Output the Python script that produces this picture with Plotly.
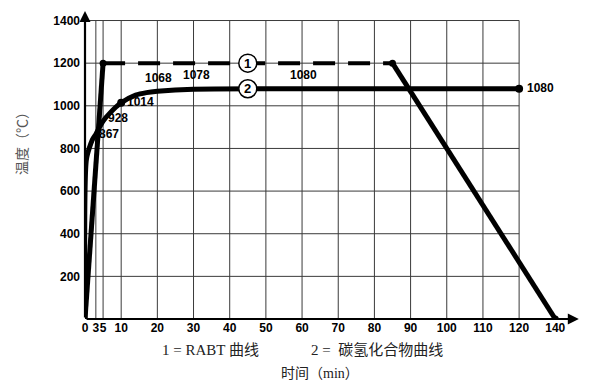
import plotly.graph_objects as go

# ---------------- data ----------------
x_tick_vals = [0, 3, 5, 10, 20, 30, 40, 50, 60, 70, 80, 90, 100, 110, 120, 140]
y_tick_vals = [200, 400, 600, 800, 1000, 1200, 1400]

# curve 1: RABT
rabt_time = [0, 5, 85, 140]
rabt_temp = [0, 1200, 1200, 0]

# curve 2: hydrocarbon curve
hc_time = [0, 0.4, 2, 3, 5, 7, 10, 14, 17, 20, 30, 60, 120]
hc_temp = [0, 750, 840, 867, 928, 968, 1014, 1050, 1062, 1068, 1078, 1080, 1080]

# labelled points on curve 2
lab_time = [3, 5, 10, 20, 30, 60, 120]
lab_temp = [867, 928, 1014, 1068, 1078, 1080, 1080]

circle_time = 45

# the schematic squeezes the 120-140 min segment to half width
def pos(t):
    return t if t <= 120 else 120 + (t - 120) / 2

FONT_B = "Liberation Sans, Arial, sans-serif"
FONT_S = "Liberation Serif, Noto Sans CJK SC, serif"

fig = go.Figure()

# grid (only up to 120 min and 1400 °C)
grid_x_max = pos(120)
for t in x_tick_vals:
    if t <= 120:
        fig.add_shape(type="line", x0=pos(t), x1=pos(t), y0=0, y1=max(y_tick_vals),
                      line=dict(color="#3a3a3a", width=1), layer="below")
for v in y_tick_vals:
    fig.add_shape(type="line", x0=0, x1=grid_x_max, y0=v, y1=v,
                  line=dict(color="#3a3a3a", width=1), layer="below")

px_time = [pos(t) for t in rabt_time]
# RABT rise
fig.add_trace(go.Scatter(x=px_time[0:2], y=rabt_temp[0:2], mode="lines",
                         line=dict(color="black", width=5), hoverinfo="skip"))
# RABT plateau (dashed)
fig.add_trace(go.Scatter(x=px_time[1:3], y=rabt_temp[1:3], mode="lines",
                         line=dict(color="black", width=4, dash="22px,13px"), hoverinfo="skip"))
# RABT cooling
fig.add_trace(go.Scatter(x=px_time[2:4], y=rabt_temp[2:4], mode="lines",
                         line=dict(color="black", width=5), hoverinfo="skip"))
fig.add_trace(go.Scatter(x=px_time[1:], y=rabt_temp[1:], mode="markers",
                         marker=dict(color="black", size=7), hoverinfo="skip"))

# hydrocarbon curve
fig.add_trace(go.Scatter(x=[pos(t) for t in hc_time], y=hc_temp, mode="lines",
                         line=dict(color="black", width=5, shape="spline", smoothing=0.6),
                         hoverinfo="skip"))
fig.add_trace(go.Scatter(x=[pos(lab_time[2]), pos(lab_time[-1])], y=[lab_temp[2], lab_temp[-1]],
                         mode="markers", marker=dict(color="black", size=8), hoverinfo="skip"))

# value labels
offsets = [(13, 0), (15, 3), (19, 1), (1, 13), (3, 14), (1, 14), (21, 1)]
for t, v, (dx, dy) in zip(lab_time, lab_temp, offsets):
    fig.add_annotation(x=pos(t), y=v, text=str(v), showarrow=False,
                       xshift=dx, yshift=dy,
                       font=dict(family=FONT_B, size=12, color="black", weight="bold"))

# circled curve numbers
for num, v in (("1", rabt_temp[1]), ("2", hc_temp[-1])):
    fig.add_shape(type="circle", xref="x", yref="y", xsizemode="pixel", ysizemode="pixel",
                  xanchor=pos(circle_time), yanchor=v, x0=-9, x1=9, y0=-9, y1=9,
                  fillcolor="white", line=dict(color="black", width=1.5))
    fig.add_annotation(x=pos(circle_time), y=v, text=num, showarrow=False,
                       font=dict(family=FONT_B, size=13, color="black", weight="bold"))

# axes with arrowheads
fig.add_annotation(x=0, y=1445, ax=0, ay=0, xref="x", yref="y", axref="x", ayref="y",
                   showarrow=True, arrowhead=2, arrowsize=1, arrowwidth=2.2, arrowcolor="black", text="")
fig.add_annotation(x=136.5, y=0, ax=0, ay=0, xref="x", yref="y", axref="x", ayref="y",
                   showarrow=True, arrowhead=2, arrowsize=1, arrowwidth=2.2, arrowcolor="black", text="")

# legend / titles (paper coords relative to the plot area)
def px(xp):
    return (xp - 85) / 492

def py(yp):
    return (319 - yp) / 307

fig.add_annotation(xref="paper", yref="paper", x=px(210), y=py(350),
                   xanchor="center", yanchor="middle", text="1 = RABT 曲线", showarrow=False,
                   font=dict(family=FONT_S, size=15, color="#222"))
fig.add_annotation(xref="paper", yref="paper", x=px(377), y=py(350),
                   xanchor="center", yanchor="middle", text="2 =  碳氢化合物曲线", showarrow=False,
                   font=dict(family=FONT_S, size=15, color="#222"))
fig.add_annotation(xref="paper", yref="paper", x=px(320), y=py(373),
                   xanchor="center", yanchor="middle", text="时间（min）", showarrow=False,
                   font=dict(family=FONT_S, size=14, color="#222"))
fig.add_annotation(xref="paper", yref="paper", x=px(22), y=py(140),
                   xanchor="center", yanchor="middle", text="温度（℃）", showarrow=False,
                   textangle=-90, font=dict(family=FONT_S, size=14, color="#555"))

# the page body has an 8px default margin; the figure is sized to compensate
fig.update_layout(
    width=596, height=382,
    margin=dict(l=77, r=27, t=4, b=71, autoexpand=False),
    paper_bgcolor="white", plot_bgcolor="white",
    showlegend=False,
    xaxis=dict(range=[0, 136], showgrid=False, zeroline=False, showline=False,
               tickvals=[pos(t) for t in x_tick_vals], ticktext=[str(t) for t in x_tick_vals],
               ticks="", tickangle=0, automargin=False,
               tickfont=dict(family=FONT_B, size=12, color="black", weight="bold"),
               fixedrange=True),
    yaxis=dict(range=[0, 1440], showgrid=False, zeroline=False, showline=False,
               tickvals=y_tick_vals, ticktext=[str(v) for v in y_tick_vals],
               ticks="", automargin=False, ticklabelstandoff=4,
               tickfont=dict(family=FONT_B, size=12, color="black", weight="bold"),
               fixedrange=True),
)

fig.write_html("out.html")
